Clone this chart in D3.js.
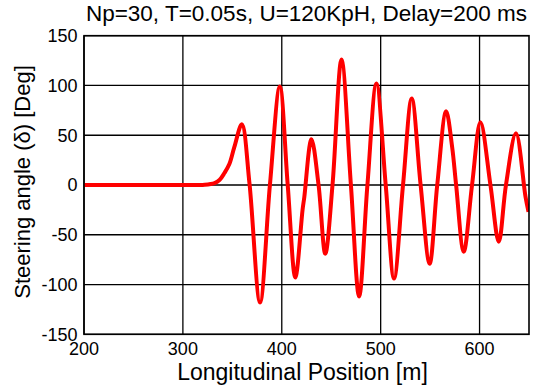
<!DOCTYPE html>
<html>
<head>
<meta charset="utf-8">
<script src="https://cdn.jsdelivr.net/npm/d3@7"></script>
<style>
  body { margin: 0; background: #fff; }
  svg text { font-family: "Liberation Sans", Arial, sans-serif; fill: #000; }
</style>
</head>
<body>
<div id="chart"></div>
<script>
// longitudinal position [m] and steering angle [deg]
var position = [200, 250, 300, 322, 332, 337, 342, 347, 352, 359.6, 367.3, 378, 388, 398, 406, 413.7,
  421, 422.8, 430, 437.2, 444, 451.3, 460.4, 469.9, 478.2, 486.6, 495.7, 505.1, 513.5, 522.6,
  531.4, 540.4, 549.5, 557.2, 566.2, 572.3, 576.3, 584, 592.4, 600.9, 611, 619.4, 626.7, 636.8,
  646.5, 649.5]
var steering = [0, 0, 0, 0.3, 2, 5, 12, 21, 38, 61, 2, -118, 0, 99, 0, -93,
  -25, -12, 46, 0, -69, 0, 126, 0, -112, 0, 102, 0, -94, 0,
  87, 0, -79, 0, 74, 38, 0, -67, 0, 63, 0, -57, 0, 52,
  -12, -27]

var xTicks = [200, 300, 400, 500, 600]
var yTicks = [-150, -100, -50, 0, 50, 100, 150]

var width = 540, height = 391
var margin = { top: 35.7, right: 11, bottom: 56.7, left: 84 }
var w = width - margin.left - margin.right,
  h = height - margin.top - margin.bottom

var svg = d3.select("#chart")
  .append("svg")
  .attr("width", width)
  .attr("height", height)

var g = svg.append("g")
  .attr("transform", `translate(${margin.left}, ${margin.top})`)

var x = d3.scaleLinear().domain([200, 650]).range([0, w])
var y = d3.scaleLinear().domain([-150, 150]).range([h, 0])

// grid
g.append("g")
  .selectAll("line")
  .data(xTicks)
  .join("line")
  .attr("x1", d => x(d)).attr("x2", d => x(d))
  .attr("y1", 0).attr("y2", h)
  .attr("stroke", "#000").attr("stroke-width", 1.3)
g.append("g")
  .selectAll("line")
  .data(yTicks)
  .join("line")
  .attr("x1", 0).attr("x2", w)
  .attr("y1", d => y(d)).attr("y2", d => y(d))
  .attr("stroke", "#000").attr("stroke-width", 1.3)

// curve
g.append("clipPath").attr("id", "clip")
  .append("rect").attr("width", w).attr("height", h)

var pts = position.map((p, i) => [p, steering[i]])
var line = d3.line()
  .x(d => x(d[0]))
  .y(d => y(d[1]))
  .curve(d3.curveCatmullRom.alpha(0.5))

g.append("path")
  .datum(pts)
  .attr("clip-path", "url(#clip)")
  .attr("d", line)
  .attr("fill", "none")
  .attr("stroke", "#ff0000")
  .attr("stroke-width", 4)
  .attr("stroke-linejoin", "round")

// frame
g.append("rect")
  .attr("width", w).attr("height", h)
  .attr("fill", "none")
  .attr("stroke", "#000").attr("stroke-width", 1.6)

// tick labels
g.append("g")
  .selectAll("text")
  .data(xTicks)
  .join("text")
  .attr("x", d => x(d))
  .attr("y", h + 21)
  .attr("text-anchor", "middle")
  .style("font-size", "18px")
  .text(d => d)
g.append("g")
  .selectAll("text")
  .data(yTicks)
  .join("text")
  .attr("x", -6.5)
  .attr("y", d => y(d))
  .attr("dy", "0.36em")
  .attr("text-anchor", "end")
  .style("font-size", "18px")
  .text(d => d)

// title and axis labels
svg.append("text")
  .attr("x", margin.left + w / 2)
  .attr("y", 21)
  .attr("text-anchor", "middle")
  .style("font-size", "22.5px")
  .text("Np=30, T=0.05s, U=120KpH, Delay=200 ms")

svg.append("text")
  .attr("x", margin.left + w / 2 - 4)
  .attr("y", 380)
  .attr("text-anchor", "middle")
  .style("font-size", "23px")
  .text("Longitudinal Position [m]")

svg.append("text")
  .attr("transform", `translate(30, ${margin.top + h / 2 - 3}) rotate(-90)`)
  .attr("text-anchor", "middle")
  .style("font-size", "22px")
  .text("Steering angle (δ) [Deg]")
</script>
</body>
</html>
